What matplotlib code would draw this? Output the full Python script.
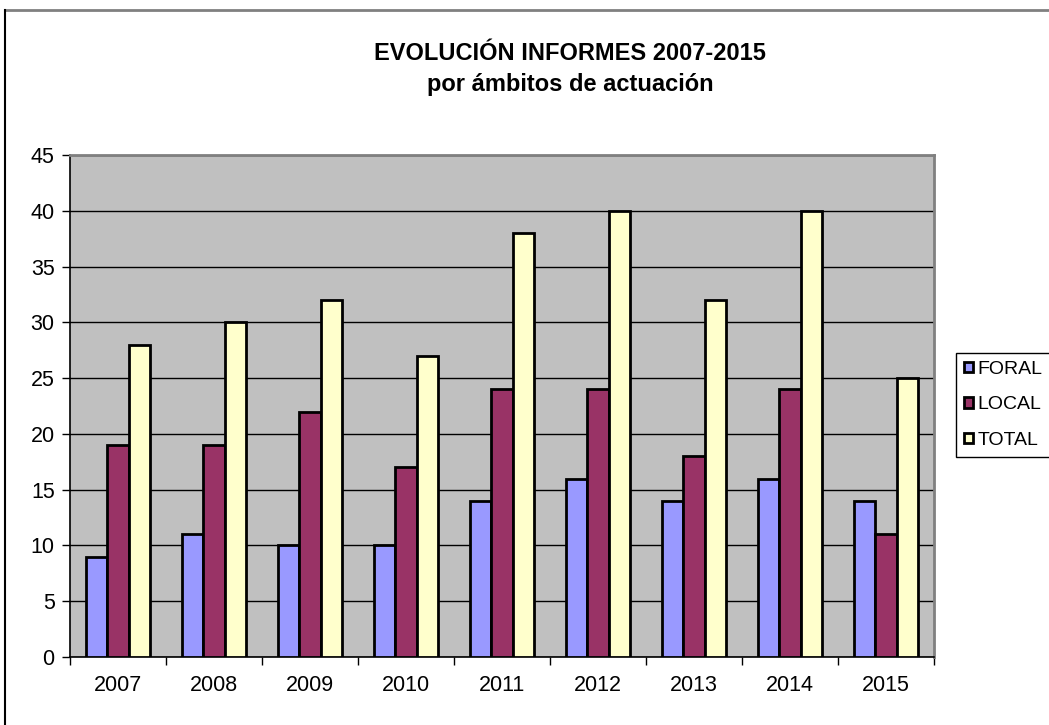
import matplotlib
matplotlib.use("Agg")
import matplotlib.pyplot as plt
import numpy as np
from matplotlib.patches import Patch
from matplotlib.lines import Line2D

years = ["2007", "2008", "2009", "2010", "2011", "2012", "2013", "2014", "2015"]
foral = [9, 11, 10, 10, 14, 16, 14, 16, 14]
local = [19, 19, 22, 17, 24, 24, 18, 24, 11]
total = [28, 30, 32, 27, 38, 40, 32, 40, 25]
series_names = ["FORAL", "LOCAL", "TOTAL"]
colors = ["#9999FF", "#993366", "#FFFFCC"]

plt.rcParams['font.family'] = ['Liberation Sans', 'DejaVu Sans']

fig = plt.figure(figsize=(10.49, 7.25), dpi=100)
ax = fig.add_axes([70/1049, 68/725, 864/1049, 502/725])
ax.set_facecolor("#C0C0C0")

x = np.arange(len(years))
w = 0.224
for i, (vals, c) in enumerate(zip([foral, local, total], colors)):
    ax.bar(x + (i - 1) * w, vals, width=w, color=c, edgecolor="black",
           linewidth=2.0, zorder=3, label=series_names[i])

ax.set_xlim(-0.5, len(years) - 0.5)
ax.set_ylim(0, 45)
ax.set_yticks(range(0, 46, 5))
ax.yaxis.grid(True, color="black", linewidth=1.0, zorder=1)
ax.set_axisbelow(True)

ax.set_xticks(x)
ax.set_xticklabels(years, fontsize=15.5)
ax.set_xticks(np.arange(-0.5, len(years), 1), minor=True)
ax.tick_params(axis='x', which='major', length=0, pad=13)
ax.tick_params(axis='x', which='minor', length=6, width=1, direction='out', color='black')
ax.tick_params(axis='y', length=6, width=1, direction='out', labelsize=15.5, pad=5)

for s in ["top", "right"]:
    ax.spines[s].set_color("#808080")
    ax.spines[s].set_linewidth(2)
for s in ["left", "bottom"]:
    ax.spines[s].set_color("black")
    ax.spines[s].set_linewidth(1.2)

fig.text(570/1049, 1 - 53/725, "EVOLUCIÓN INFORMES 2007-2015", ha="center", va="center",
         fontsize=17, fontweight="bold")
fig.text(570/1049, 1 - 84/725, "por ámbitos de actuación", ha="center", va="center",
         fontsize=17, fontweight="bold")

handles = [Patch(facecolor=c, edgecolor="black", linewidth=2.0) for c in colors]
leg = fig.legend(handles, series_names, loc="upper left",
                 bbox_to_anchor=(956/1049, 1 - 353/725), fontsize=14,
                 frameon=True, fancybox=False, edgecolor="black", framealpha=1,
                 handlelength=0.45, handleheight=0.45, handletextpad=0.25,
                 labelspacing=0.95, borderpad=0.4, borderaxespad=0)
leg.get_frame().set_linewidth(1.0)

# outer chart frame (top and left visible)
fig.add_artist(Line2D([5/1049, 1], [1 - 10/725, 1 - 10/725], color="#808080", linewidth=2,
                      transform=fig.transFigure))
fig.add_artist(Line2D([5/1049, 5/1049], [0, 1 - 10/725], color="black", linewidth=1.5,
                      transform=fig.transFigure))

fig.savefig("out.png", dpi=100)
